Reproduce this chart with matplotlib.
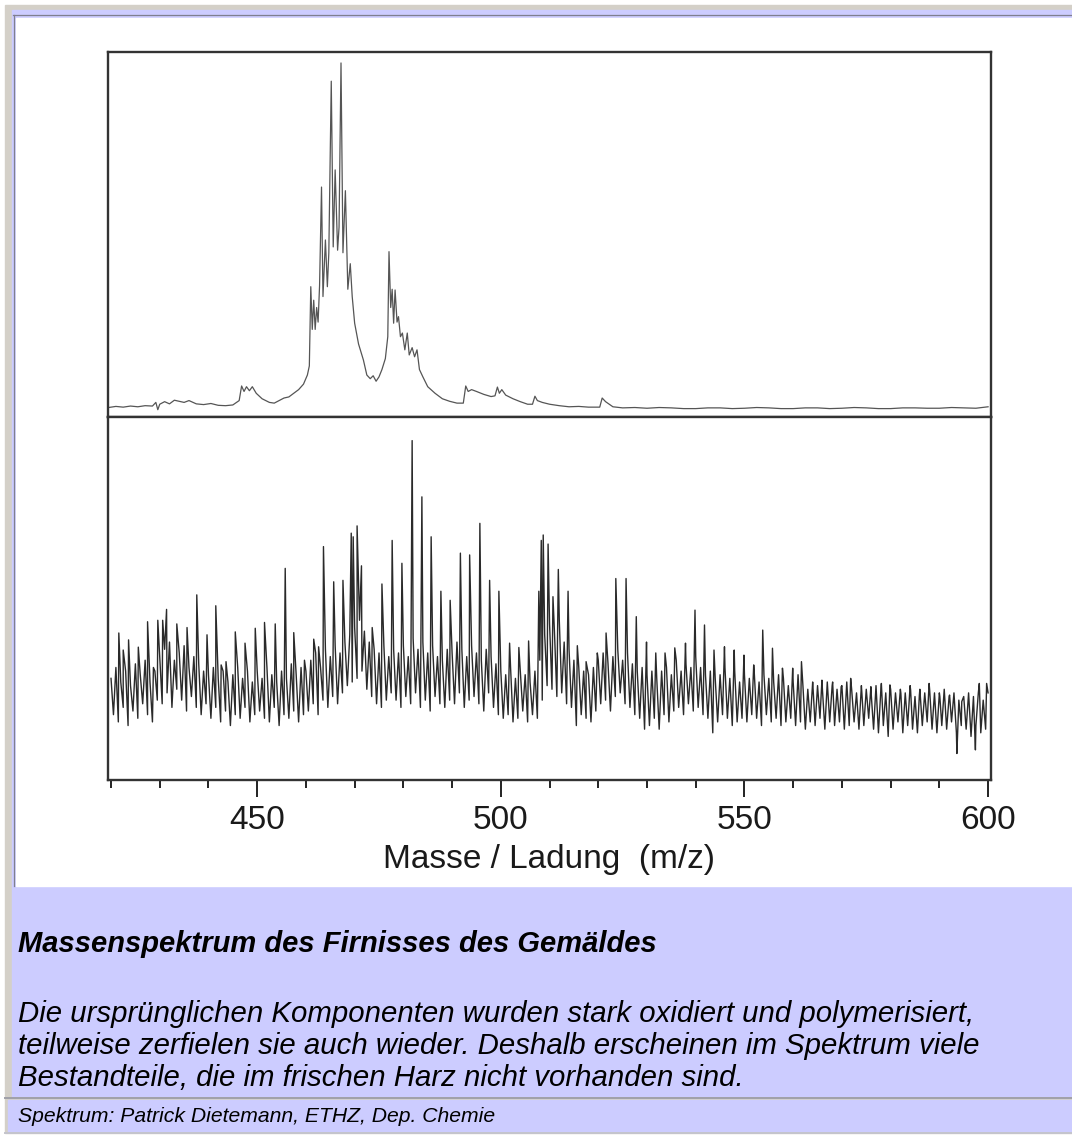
import matplotlib
matplotlib.use('Agg')
import matplotlib.pyplot as plt
import numpy as np
from matplotlib.patches import Rectangle
from matplotlib.ticker import FixedLocator, MultipleLocator

plt.rcParams['font.family'] = ['Liberation Sans', 'DejaVu Sans']

W, H = 1072, 1138

# top trace, fresh mastic: m/z and intensity (0..100 = panel height)
mastix_mz = [419.5, 421, 422.5, 424, 425.5, 427, 428.5, 429.2, 429.6, 430, 431, 432, 433, 434,
             435, 436, 437.5, 439, 440.5, 442, 443.5, 445, 446.3, 446.8, 447.3, 447.8, 448.4,
             449.0, 449.8, 451, 452.5, 453.5, 454.5, 455.5, 456.5, 457.5, 458.5, 459.5, 460.3,
             460.7, 461.0, 461.3, 461.6, 461.9, 462.2, 462.5, 462.8, 463.2, 463.5, 464.0, 464.4,
             464.7, 465.2, 465.6, 466.0, 466.5, 466.8, 467.2, 467.6, 468.1, 468.6, 469.1, 469.5,
             470.0, 470.8, 471.8, 472.5, 473.2, 473.8, 474.4, 475.0, 475.6, 476.3, 476.8, 477.05,
             477.4, 477.7, 478.0, 478.3, 478.7, 479.0, 479.4, 479.8, 480.3, 480.8, 481.2, 481.8,
             482.3, 482.8, 483.3, 484.0, 485.0, 486.5, 488.0, 489.5, 491.0, 492.3, 492.8, 493.3,
             494.0, 495.0, 496.5, 498.0, 498.8, 499.3, 499.7, 500.2, 501, 502.5, 504, 505.5,
             506.5, 507.0, 507.5, 508.5, 510, 512, 514, 516, 518, 520.3, 520.8, 521.5, 523, 525,
             527.5, 530, 532.5, 535, 537.5, 540, 542.5, 545, 547.5, 550, 552.5, 555, 557.5, 560,
             562.5, 565, 567.5, 570, 572.5, 575, 577.5, 580, 582.5, 585, 587.5, 590, 592.5, 595,
             597.5, 600]
mastix_int = [2.6, 2.9, 2.7, 3.0, 2.8, 3.1, 3.0, 4.0, 2.0, 3.5, 4.2, 3.6, 4.6, 4.3,
              4.0, 4.5, 3.6, 3.4, 3.7, 3.2, 3.1, 3.3, 4.5, 8.5, 7.0, 8.3, 7.2,
              8.3, 6.5, 5.0, 4.0, 3.8, 4.5, 5.2, 5.5, 6.5, 7.5, 9.0, 11.5,
              14, 35.7, 24, 32, 24, 30, 26, 36, 63, 33, 48.5, 35.7,
              45, 92, 46.6, 67.7, 45.7, 52, 97, 45, 62, 35, 42, 33,
              25.7, 20, 15.6, 11.5, 10.5, 11.3, 9.8, 11.0, 13.0, 16.0, 22, 45.3,
              30, 35, 25.7, 34.8, 26, 27.5, 22, 23, 18.4, 23, 17, 19,
              16.5, 18.4, 13, 11, 8.3, 6.5, 5.0, 4.3, 3.8, 3.8, 8.5, 7.0,
              7.5, 7.0, 6.2, 5.6, 5.8, 8.2, 6.5, 7.5, 6.0, 5.0, 4.2, 3.5,
              3.5, 5.7, 4.5, 4.0, 3.5, 3.1, 2.8, 2.9, 2.7, 2.7, 5.2, 4.2, 2.8, 2.5,
              2.6, 2.4, 2.6, 2.5, 2.3, 2.3, 2.5, 2.5, 2.3, 2.4, 2.6, 2.5, 2.3, 2.3,
              2.5, 2.5, 2.3, 2.4, 2.6, 2.5, 2.3, 2.3, 2.5, 2.5, 2.4, 2.4, 2.6, 2.5,
              2.4, 2.8]

# bottom trace, painting varnish: noise band every 0.5 m/z, one row per 10 m/z
firnis_band = [
    [28, 18, 31, 16, 27, 20, 30, 15, 26, 19, 32, 17, 29, 21, 33, 18, 27, 16, 30, 22],  # 420
    [34, 21, 36, 24, 38, 20, 33, 25, 35, 22, 37, 19, 31, 23, 34, 20, 32, 18, 30, 21],  # 430
    [29, 17, 31, 20, 28, 16, 30, 19, 27, 15, 29, 18, 31, 17, 28, 20, 30, 16, 27, 18],  # 440
    [30, 19, 28, 17, 31, 16, 29, 20, 27, 15, 30, 18, 28, 17, 32, 19, 29, 16, 31, 18],  # 450
    [30, 19, 33, 21, 35, 18, 31, 22, 36, 20, 34, 23, 37, 21, 35, 24, 38, 26, 40, 27],  # 460
    [42, 28, 44, 30, 41, 25, 38, 23, 36, 21, 35, 20, 37, 22, 34, 24, 36, 22, 35, 20],  # 470
    [37, 23, 34, 21, 39, 24, 36, 20, 38, 22, 35, 19, 37, 23, 34, 21, 33, 20, 36, 22],  # 480
    [35, 21, 38, 24, 36, 20, 34, 22, 37, 23, 35, 21, 33, 19, 36, 24, 34, 20, 32, 18],  # 490
    [30, 17, 29, 18, 31, 16, 28, 17, 30, 19, 29, 16, 27, 18, 30, 17, 33, 22, 40, 26],  # 500
    [43, 25, 41, 23, 44, 24, 38, 21, 36, 20, 33, 15, 31, 18, 30, 17, 29, 16, 31, 19],  # 510
    [33, 21, 35, 22, 32, 19, 34, 23, 36, 24, 33, 21, 35, 20, 32, 18, 30, 17, 31, 14],  # 520
    [29, 15, 30, 17, 28, 14, 30, 18, 31, 16, 29, 19, 33, 20, 30, 18, 32, 21, 31, 19],  # 530
    [34, 20, 31, 18, 29, 17, 30, 13, 28, 16, 29, 18, 31, 17, 28, 15, 30, 16, 27, 17],  # 540
    [29, 16, 28, 18, 30, 17, 27, 15, 29, 18, 28, 16, 27, 17, 29, 15, 28, 16, 26, 17],  # 550
    [27, 15, 29, 16, 26, 14, 25, 16, 27, 15, 26, 17, 25, 14, 27, 16, 26, 15, 25, 16],  # 560
    [26, 14, 27, 15, 25, 16, 24, 14, 26, 15, 25, 17, 24, 14, 26, 13, 25, 15, 24, 12],  # 570
    [25, 14, 24, 16, 25, 13, 24, 15, 26, 14, 23, 13, 25, 15, 24, 16, 25, 14, 24, 13],  # 580
    [24, 15, 25, 14, 23, 16, 24, 13, 22, 15, 23, 14, 24, 12, 23, 15, 24, 13, 22, 14],  # 590
    [24],                                                                              # 600
]

# sharp peaks of the varnish trace (m/z, intensity)
firnis_peak_mz = [421.6, 422.5, 423.6, 425.6, 427.5, 428.7, 429.6, 430.6, 431.4, 433.5, 435.6,
                  437.6, 439.7, 441.5, 442.6, 443.6, 445.5, 447.5, 449.6, 451.5, 453.7, 455.75,
                  457.5, 459.7, 461.6, 462.6, 463.6, 465.7, 467.6, 469.3, 469.7, 470.5, 471.4,
                  473.6, 475.6, 477.7, 479.7, 481.8, 483.8, 485.7, 487.7, 489.6, 491.7, 493.6,
                  495.7, 497.7, 499.6, 501.8, 503.7, 505.7, 507.8, 508.3, 508.7, 509.7, 510.7,
                  511.8, 513.8, 515.7, 517.5, 519.8, 521.6, 523.6, 525.7, 527.8, 529.9, 531.8,
                  533.7, 535.7, 537.9, 539.85, 541.8, 543.75, 545.9, 547.9, 549.9, 551.9,
                  553.75, 555.75, 557.8, 559.9, 561.7, 564.1, 565.9, 568.1, 569.85, 571.8,
                  574.1, 575.95, 578.1, 579.85, 582.1, 584.1, 585.9, 587.9, 590.1, 592.1,
                  593.6, 594.6, 597.4, 598.2, 599.7]
firnis_peak_int = [40.5, 35.8, 38.6, 36.6, 43.6, 31, 44, 44, 47, 43, 42,
                   51, 40, 48, 31.7, 32.6, 40.8, 37.7, 41.8, 43.4, 43, 58.3,
                   40.6, 33, 38.8, 36.7, 64.3, 54.6, 55, 68, 67, 70, 59,
                   42, 54, 66, 59.7, 93.5, 78, 67, 52, 49.5, 62.5, 62,
                   70.7, 55, 52, 37.7, 36.5, 38.3, 52, 66, 67.5, 65, 50.5,
                   58, 52, 37, 32.6, 35, 40.5, 55.5, 55.5, 45, 38, 35,
                   35, 36.4, 37.7, 46.8, 42.7, 35.8, 36.7, 35.8, 34.4, 31.7,
                   41.3, 36.3, 30.8, 30.8, 32.6, 24.8, 27.5, 27, 25.7, 28,
                   23.9, 25.7, 26.6, 26.2, 23.9, 24.8, 23.4, 26.6, 23, 23.4,
                   7.3, 21.6, 8.3, 26.6, 26.6]

panel_labels = ['Frischer Mastix', 'Firnis des Gemäldes']
major_ticks = [450, 500, 550, 600]
major_labels = ['450', '500', '550', '600']
x_label = 'Masse / Ladung  (m/z)'
caption_title = 'Massenspektrum des Firnisses des Gemäldes'
caption_lines = ['Die ursprünglichen Komponenten wurden stark oxidiert und polymerisiert,',
                 'teilweise zerfielen sie auch wieder. Deshalb erscheinen im Spektrum viele',
                 'Bestandteile, die im frischen Harz nicht vorhanden sind.']
credit = 'Spektrum: Patrick Dietemann, ETHZ, Dep. Chemie'

band_vals = np.array([v for row in firnis_band for v in row], dtype=float)
band_mz = 420 + 0.5 * np.arange(len(band_vals))
all_mz = np.concatenate([band_mz, firnis_peak_mz])
all_int = np.concatenate([band_vals, firnis_peak_int])
order = np.argsort(all_mz, kind='stable')
firnis_mz = all_mz[order]
firnis_int = all_int[order]

fig = plt.figure(figsize=(W / 100, H / 100), dpi=100)

# page background drawn in pixel coordinates
bg = fig.add_axes([0, 0, 1, 1])
bg.set_xlim(0, W)
bg.set_ylim(H, 0)
bg.axis('off')
bg.add_patch(Rectangle((0, 0), W, H, color='white'))
bg.add_patch(Rectangle((5, 5), W - 5, 1094, color='#d4d0c8'))
bg.add_patch(Rectangle((12, 10), W - 12, 1088, color='#ccccff'))
bg.plot([13, W], [14.5, 14.5], color='#7f7f8f', lw=0.9)
bg.plot([13.5, 13.5], [14.5, 886], color='#7f7f8f', lw=0.9)
bg.add_patch(Rectangle((16, 18), W - 16, 868, color='white'))
bg.plot([5, W], [1098, 1098], color='#a0a0a8', lw=1.4)
bg.add_patch(Rectangle((5, 1099), W - 5, 34, color='#d4d0c8'))
bg.add_patch(Rectangle((8, 1100), W - 8, 32, color='#ccccff'))
bg.plot([5, W], [1133, 1133], color='#c4c4cc', lw=1.4)

bg.text(18, 952, caption_title, fontsize=21, fontweight='bold', fontstyle='italic',
        va='baseline', ha='left', color='black')
for i, line in enumerate(caption_lines):
    bg.text(18, 1022 + i * 32, line, fontsize=21.2, fontstyle='italic',
            va='baseline', ha='left', color='black')
bg.text(18, 1122, credit, fontsize=15.2, fontstyle='italic', va='baseline', ha='left',
        color='black')

bg.text(697, 155, panel_labels[0], fontsize=24, va='baseline', ha='left', color='#1a1a1a')
bg.text(642, 506, panel_labels[1], fontsize=24, va='baseline', ha='left', color='#1a1a1a')
bg.text(549, 868, x_label, fontsize=24, va='baseline', ha='center', color='#1a1a1a')

ax_top = fig.add_axes([108 / W, 1 - 417 / H, 883 / W, 365 / H])
ax_bot = fig.add_axes([108 / W, 1 - 780 / H, 883 / W, 363 / H])

ax_top.plot(mastix_mz, mastix_int, color='#555555', lw=0.9)
ax_bot.plot(firnis_mz, firnis_int, color='#2a2a2a', lw=1.0)

for ax in (ax_top, ax_bot):
    ax.set_facecolor('white')
    ax.set_xlim(419.38, 600.6)
    ax.set_ylim(0, 100)
    ax.set_yticks([])
    ax.xaxis.set_major_locator(FixedLocator(major_ticks))
    ax.xaxis.set_minor_locator(MultipleLocator(10))
    ax.tick_params(axis='x', which='major', direction='out', length=12, width=1.4,
                   color='#222222', labelsize=24, pad=6)
    ax.tick_params(axis='x', which='minor', direction='out', length=6, width=1.4,
                   color='#222222')
    for s in ax.spines.values():
        s.set_linewidth(1.7)
        s.set_color('#333333')

ax_top.tick_params(labelbottom=False)
ax_bot.set_xticklabels(major_labels, color='#1a1a1a')

fig.savefig('out.png', dpi=100)
